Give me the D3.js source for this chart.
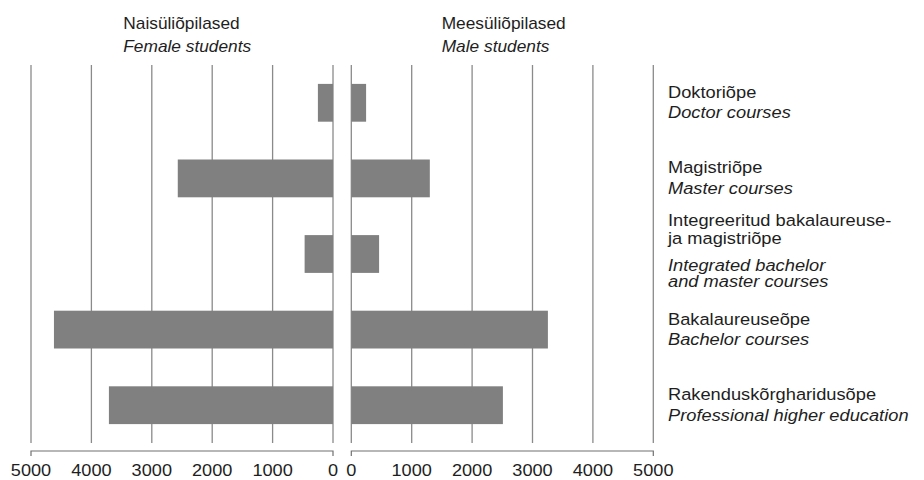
<!DOCTYPE html>
<html>
<head>
<meta charset="utf-8">
<script src="https://cdn.jsdelivr.net/npm/d3@7"></script>
<style>
  html, body { margin: 0; padding: 0; background: #fff; }
  svg { display: block; }
  text { font-family: "Liberation Sans", Arial, Helvetica, sans-serif; fill: #1e1e1e; }
</style>
</head>
<body>
<svg id="chart" width="924" height="480"></svg>
<script>
// ---- data ----
const categories = ["Doktoriõpe", "Magistriõpe", "Integreeritud", "Bakalaureuseõpe", "Rakenduskõrgharidusõpe"];
const labelsEt = [["Doktoriõpe"], ["Magistriõpe"], ["Integreeritud bakalaureuse-", "ja magistriõpe"], ["Bakalaureuseõpe"], ["Rakenduskõrgharidusõpe"]];
const labelsEn = [["Doctor courses"], ["Master courses"], ["Integrated bachelor", "and master courses"], ["Bachelor courses"], ["Professional higher education"]];
const female = [250, 2570, 470, 4620, 3710];
const male = [245, 1300, 460, 3255, 2510];
const tickValues = [0, 1000, 2000, 3000, 4000, 5000];
const titleEt = ["Naisüliõpilased", "Meesüliõpilased"];
const titleEn = ["Female students", "Male students"];

// ---- layout ----
(function () {
const svg = d3.select("#chart");
const plotTop = 65, plotBottom = 443, axisY = 451;
const y = d3.scaleBand().domain(categories).range([plotTop, plotBottom]).paddingInner(0.5).paddingOuter(0.25);
const xL = d3.scaleLinear().domain([0, 5000]).range([333, 31]);
const xR = d3.scaleLinear().domain([0, 5000]).range([351.3, 653.3]);

const gridColor = "#8a8a8a", barColor = "#808080", axisColor = "#707070";

function txt(g, x, yy, s, size, sx, italic, anchor) {
  const t = g.append("text")
    .attr("transform", `translate(${x},${yy}) scale(${sx},1)`)
    .style("font-size", size + "px")
    .text(s);
  if (italic) t.style("font-style", "italic");
  if (anchor) t.attr("text-anchor", anchor);
  return t;
}

[xL, xR].forEach((x, pi) => {
  const vals = pi === 0 ? female : male;
  const g = svg.append("g");
  g.selectAll("line.grid").data(tickValues).join("line")
    .attr("class", "grid")
    .attr("x1", d => x(d)).attr("x2", d => x(d))
    .attr("y1", plotTop).attr("y2", plotBottom)
    .attr("stroke", gridColor).attr("stroke-width", 1.3);
  g.selectAll("rect").data(categories).join("rect")
    .attr("x", (d, i) => Math.min(x(0), x(vals[i])))
    .attr("width", (d, i) => Math.abs(x(vals[i]) - x(0)))
    .attr("y", d => y(d))
    .attr("height", y.bandwidth())
    .attr("fill", barColor);
  const x0 = x(0), x5 = x(5000);
  g.append("path")
    .attr("d", `M${x0},${axisY + 5}V${axisY}H${x5}V${axisY + 5}`)
    .attr("fill", "none").attr("stroke", axisColor).attr("stroke-width", 1.2);
  tickValues.forEach(v => txt(g, x(v), 475.5, String(v), 16.5, 1.1, false, "middle"));
  const tx = pi === 0 ? 123.3 : 441.7;
  txt(g, tx, 28.5, titleEt[pi], 16.8, 1.03, false);
  txt(g, tx, 51.5, titleEn[pi], 16.8, 1.03, true);
});

const lg = svg.append("g");
categories.forEach((c, i) => {
  const cy = y(c) + y.bandwidth() / 2;
  const lx = 668;
  const fs = 17.4, sx = 1.05;
  if (labelsEt[i].length === 1) {
    txt(lg, lx, cy - 5, labelsEt[i][0], fs, sx, false);
    txt(lg, lx, cy + 15.5, labelsEn[i][0], fs, sx, true);
  } else {
    txt(lg, lx, cy - 28.5, labelsEt[i][0], fs, sx, false);
    txt(lg, lx, cy - 10, labelsEt[i][1], fs, sx, false);
    txt(lg, lx, cy + 16.5, labelsEn[i][0], fs, sx, true);
    txt(lg, lx, cy + 32.5, labelsEn[i][1], fs, sx, true);
  }
});
})();
</script>
</body>
</html>
